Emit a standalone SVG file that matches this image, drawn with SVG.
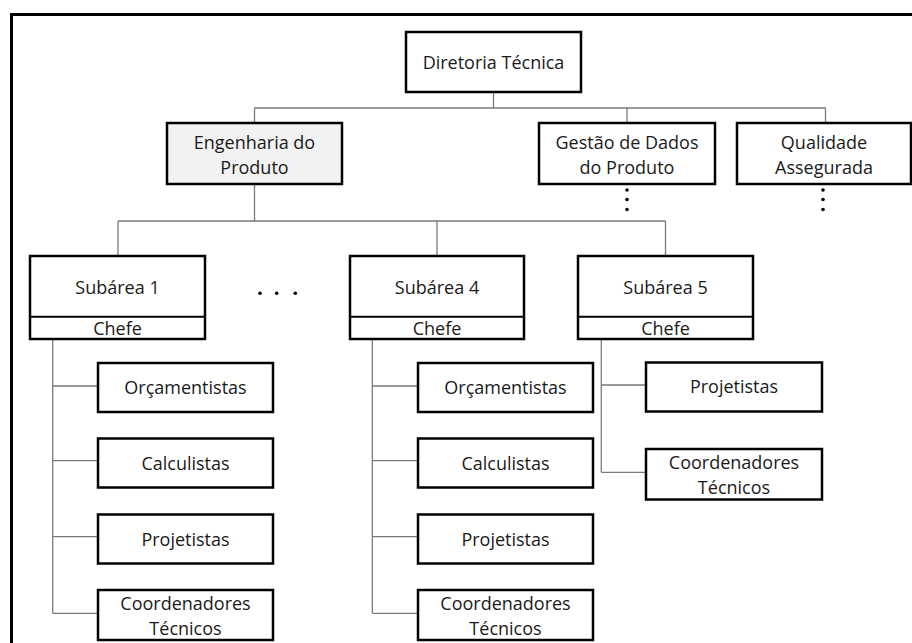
<svg xmlns="http://www.w3.org/2000/svg" width="912" height="643" viewBox="0 0 912 643">
<style>
.box{fill:#fff;stroke:#000;stroke-width:2.5}
.gray{fill:#f2f2f2}
.t{font-family:"Open Sans","Noto Sans",sans-serif;font-size:18px;fill:#1a1a1a;text-anchor:middle}
.c{fill:none;stroke:#7a7a7a;stroke-width:1.3}
.dot{fill:#000}
</style>
<rect x="0" y="0" width="912" height="643" fill="#fff"/>
<path d="M11.5 660 V14.5 H920" fill="none" stroke="#000" stroke-width="3"/>
<g id="connectors">
<path class="c" d="M493.5 92 V108 M254.5 108 H825.5 M254.5 108 V123 M627 108 V123 M825.5 108 V123"/>
<path class="c" d="M254.5 184 V221 M118 221 H665.5 M118 221 V256 M437 221 V256 M665.5 221 V256"/>
<path class="c" d="M52.7 339 V613.3 M52.7 386 H98 M52.7 460.7 H98 M52.7 536.7 H98 M52.7 613.3 H98"/>
<path class="c" d="M372.3 339 V613.3 M372.3 386 H418 M372.3 460.7 H418 M372.3 536.7 H418 M372.3 613.3 H418"/>
<path class="c" d="M601.3 339 V472.3 M601.3 385 H646 M601.3 472.3 H646"/>
</g>
<g id="dots">
<circle class="dot" cx="627" cy="190" r="1.8"/><circle class="dot" cx="627" cy="199.5" r="1.8"/><circle class="dot" cx="627" cy="209.5" r="1.8"/>
<circle class="dot" cx="823" cy="190" r="1.8"/><circle class="dot" cx="823" cy="199.5" r="1.8"/><circle class="dot" cx="823" cy="209.5" r="1.8"/>
<circle class="dot" cx="260" cy="293.3" r="1.8"/><circle class="dot" cx="276.7" cy="293.3" r="1.8"/><circle class="dot" cx="295.3" cy="293.3" r="1.8"/>
</g>
<g id="diretoria"><rect class="box" x="406" y="32" width="175" height="60"/><text class="t" x="493.5" y="68.5">Diretoria Técnica</text></g>
<g id="engenharia"><rect class="box gray" x="167" y="123" width="175" height="61"/><text class="t" x="254.5" y="148.5">Engenharia do</text><text class="t" x="254.5" y="173.5">Produto</text></g>
<g id="gestao"><rect class="box" x="539" y="123" width="176" height="61"/><text class="t" x="627" y="148.5">Gestão de Dados</text><text class="t" x="627" y="173.5">do Produto</text></g>
<g id="qualidade"><rect class="box" x="737" y="123" width="174" height="61"/><text class="t" x="824" y="148.5">Qualidade</text><text class="t" x="824" y="173.5">Assegurada</text></g>
<g id="subarea1"><rect class="box" x="30" y="256" width="175" height="83"/><line x1="30" y1="316.7" x2="205" y2="316.7" stroke="#000" stroke-width="2"/><text class="t" x="117.5" y="293.5">Subárea 1</text><text class="t" x="117.5" y="335">Chefe</text></g>
<g id="subarea4"><rect class="box" x="350" y="256" width="174" height="83"/><line x1="350" y1="316.7" x2="524" y2="316.7" stroke="#000" stroke-width="2"/><text class="t" x="437" y="293.5">Subárea 4</text><text class="t" x="437" y="335">Chefe</text></g>
<g id="subarea5"><rect class="box" x="578" y="256" width="175" height="83"/><line x1="578" y1="316.7" x2="753" y2="316.7" stroke="#000" stroke-width="2"/><text class="t" x="665.5" y="293.5">Subárea 5</text><text class="t" x="665.5" y="335">Chefe</text></g>
<g id="s1-orc"><rect class="box" x="98" y="363" width="175" height="49"/><text class="t" x="185.5" y="393.5">Orçamentistas</text></g>
<g id="s1-calc"><rect class="box" x="98" y="438.5" width="175" height="49"/><text class="t" x="185.5" y="470">Calculistas</text></g>
<g id="s1-proj"><rect class="box" x="98" y="514.5" width="175" height="49"/><text class="t" x="185.5" y="545.5">Projetistas</text></g>
<g id="s1-coord"><rect class="box" x="98" y="590" width="175" height="50"/><text class="t" x="185.5" y="609.5">Coordenadores</text><text class="t" x="185.5" y="635">Técnicos</text></g>
<g id="s4-orc"><rect class="box" x="418" y="363" width="175" height="49"/><text class="t" x="505.5" y="393.5">Orçamentistas</text></g>
<g id="s4-calc"><rect class="box" x="418" y="438.5" width="175" height="49"/><text class="t" x="505.5" y="470">Calculistas</text></g>
<g id="s4-proj"><rect class="box" x="418" y="514.5" width="175" height="49"/><text class="t" x="505.5" y="545.5">Projetistas</text></g>
<g id="s4-coord"><rect class="box" x="418" y="590" width="175" height="50"/><text class="t" x="505.5" y="609.5">Coordenadores</text><text class="t" x="505.5" y="635">Técnicos</text></g>
<g id="s5-proj"><rect class="box" x="646" y="362.5" width="176" height="49"/><text class="t" x="734" y="393">Projetistas</text></g>
<g id="s5-coord"><rect class="box" x="646" y="449" width="176" height="50.5"/><text class="t" x="734" y="468.5">Coordenadores</text><text class="t" x="734" y="494">Técnicos</text></g>
</svg>
